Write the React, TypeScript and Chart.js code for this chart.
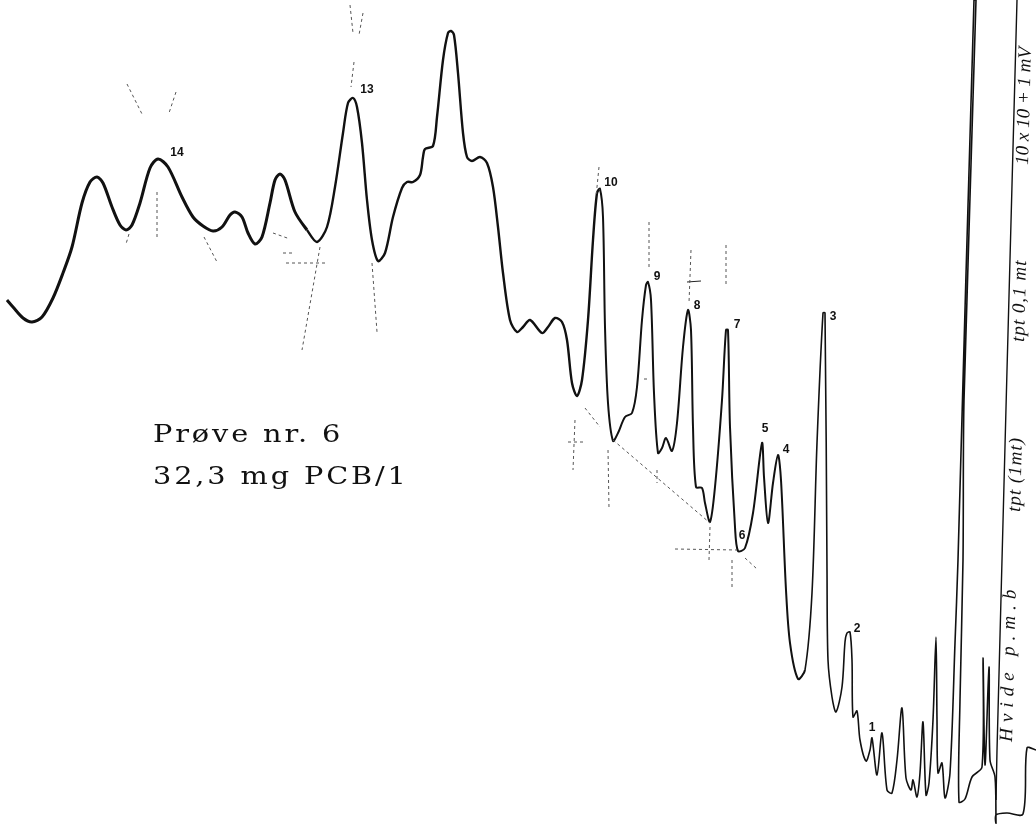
import React, { useEffect, useRef } from "react";
import { Chart, registerables } from "chart.js";

Chart.register(...registerables);

const traceX = [7,13,23,32,42,53,63,72,82,90,97,103,112,120,126,132,140,150,158,168,182,193,203,213,222,230,235,242,248,255,262,270,275,280,285,295,307,317,327,335,343,348,353,357,362,367,372,378,385,393,402,407,413,420,423,425,433,437,443,448,451,454,458,463,467,472,480,487,493,498,503,510,517,523,530,542,548,555,562,567,572,577,582,588,593,597,600,603,605,608,613,618,625,632,637,642,646,648,651,654,658,662,666,672,677,683,688,691,693,696,702,705,710,715,722,726,728,730,735,738,745,753,762,764,768,773,778,781,786,790,798,805,812,817,823,825,827,828,832,836,842,845,847,850,852,853,857,860,866,870,872,877,882,887,892,897,902,906,911,913,917,920,923,926,929,933,936,937,938,942,945,950,955,958,974,976,964,963,960,959,965,972,982,983,985,989,990,995,996,996,1007,1023,1027,1036];
const traceY = [300,307,318,322,317,298,273,247,203,182,177,183,207,225,230,225,203,168,159,167,197,217,226,231,227,215,212,217,233,244,237,203,180,174,180,212,230,242,227,187,133,103,98,107,143,200,240,261,253,217,188,182,182,175,157,149,146,117,60,33,31,35,73,133,157,161,157,163,187,227,273,320,332,327,320,333,327,318,322,340,383,396,380,320,240,193,189,217,327,403,441,433,417,413,387,320,285,282,300,393,453,448,438,451,423,347,310,330,427,487,488,503,522,487,400,330,330,427,527,551,548,513,443,477,523,483,455,480,590,643,679,670,593,443,313,313,570,660,697,712,687,642,633,632,660,717,711,740,761,750,738,775,733,790,793,760,708,778,790,780,797,773,722,795,783,720,637,720,773,763,798,773,643,560,0,0,400,560,700,802,799,777,767,658,765,667,760,777,823,815,813,814,748,750];

const ruleX = [1017, 1007, 997, 996];
const ruleY = [0, 370, 750, 800];

const guideStarts = [[127,84],[176,92],[157,192],[129,234],[204,237],[273,233],[283,253],[286,263],[320,247],[350,5],[363,13],[354,62],[372,263],[599,167],[649,222],[644,379],[691,250],[726,245],[575,420],[568,442],[608,450],[585,408],[613,440],[675,549],[710,527],[732,560],[745,558],[657,470]];
const guideEnds = [[142,114],[169,113],[157,237],[126,244],[217,262],[290,239],[295,253],[325,263],[302,350],[353,33],[359,35],[351,87],[377,332],[596,197],[649,268],[649,379],[689,303],[726,287],[573,470],[583,442],[609,508],[600,427],[710,523],[737,550],[709,560],[732,588],[757,569],[657,483]];

const crossX = [687, 701];
const crossY = [282, 281];

const peakLabels = ["14","13","10","9","8","7","6","5","4","3","2","1"];
const peakLabelX = [177,367,611,657,697,737,742,765,786,833,857,872];
const peakLabelY = [153,90,183,277,306,325,536,429,450,317,629,728];

const captionLines = ["Prøve nr. 6", "32,3 mg PCB/1"];
const captionX = [153, 153];
const captionY = [442, 484];

const noteTexts = ["Hvide p.m.b", "tpt (1mt)", "tpt 0,1 mt", "10 x 10 + 1 mV"];
const noteX = [1012, 1020, 1024, 1028];
const noteY = [742, 512, 342, 165];
const noteSpacing = [6, 1, 1, 0];

function toPoints(xs: number[], ys: number[]) {
  return xs.map((x, i) => ({ x, y: ys[i] }));
}

function guidePoints() {
  const out: { x: number; y: number }[] = [];
  guideStarts.forEach((s, i) => {
    out.push({ x: s[0], y: s[1] }, { x: guideEnds[i][0], y: guideEnds[i][1] }, { x: NaN, y: NaN });
  });
  return out;
}

const textPlugin = {
  id: "sheetText",
  afterDatasetsDraw(chart: any) {
    const { ctx, scales } = chart;
    const sx = scales.x;
    const sy = scales.y;
    ctx.save();
    ctx.fillStyle = "#111";
    ctx.textAlign = "center";
    ctx.textBaseline = "middle";
    ctx.font = 'bold 12px "Liberation Sans"';
    peakLabels.forEach((t, i) => {
      ctx.fillText(t, sx.getPixelForValue(peakLabelX[i]), sy.getPixelForValue(peakLabelY[i]));
    });
    ctx.textAlign = "left";
    ctx.textBaseline = "alphabetic";
    ctx.font = '25px "DejaVu Serif"';
    (ctx as any).letterSpacing = "2.5px";
    captionLines.forEach((t, i) => {
      ctx.save();
      ctx.translate(sx.getPixelForValue(captionX[i]), sy.getPixelForValue(captionY[i]));
      ctx.scale(1.15, 1);
      ctx.fillText(t, 0, 0);
      ctx.restore();
    });
    ctx.font = 'italic 19px "Liberation Serif"';
    noteTexts.forEach((t, i) => {
      (ctx as any).letterSpacing = noteSpacing[i] + "px";
      ctx.save();
      ctx.translate(sx.getPixelForValue(noteX[i]), sy.getPixelForValue(noteY[i]));
      ctx.rotate(-Math.PI / 2 + 0.025);
      ctx.fillText(t, 0, 0);
      ctx.restore();
    });
    ctx.restore();
  },
};

export default function App() {
  const ref = useRef<HTMLCanvasElement | null>(null);
  useEffect(() => {
    document.body.style.margin = "0";
    document.body.style.background = "#fff";
    const chart = new Chart(ref.current as HTMLCanvasElement, {
      type: "scatter",
      data: {
        datasets: [
          {
            data: guidePoints(),
            showLine: true,
            pointRadius: 0,
            borderColor: "#555",
            borderWidth: 1,
            borderDash: [3, 3],
            spanGaps: false,
          },
          {
            data: toPoints(crossX, crossY),
            showLine: true,
            pointRadius: 0,
            borderColor: "#222",
            borderWidth: 1,
          },
          {
            data: toPoints(ruleX, ruleY),
            showLine: true,
            pointRadius: 0,
            borderColor: "#111",
            borderWidth: 1.4,
          },
          {
            data: toPoints(traceX, traceY),
            showLine: true,
            pointRadius: 0,
            borderColor: "#111",
            borderWidth: 2,
            tension: 0.3,
            borderJoinStyle: "round",
            segment: {
              borderWidth: (c: any) => (c.p0.parsed.x < 300 ? 3 : c.p0.parsed.x < 600 ? 2.4 : c.p0.parsed.x < 800 ? 2 : 1.6),
            },
          },
        ] as any,
      },
      options: {
        animation: false,
        responsive: false,
        layout: { padding: 0 },
        plugins: { legend: { display: false }, tooltip: { enabled: false } },
        scales: {
          x: { type: "linear", min: 0, max: 1036, display: false },
          y: { type: "linear", min: 0, max: 827, reverse: true, display: false },
        },
      } as any,
      plugins: [textPlugin],
    });
    return () => chart.destroy();
  }, []);
  return (
    <canvas
      ref={ref}
      width={1036}
      height={827}
      style={{ display: "block", width: 1036, height: 827, background: "#fff" }}
    />
  );
}
